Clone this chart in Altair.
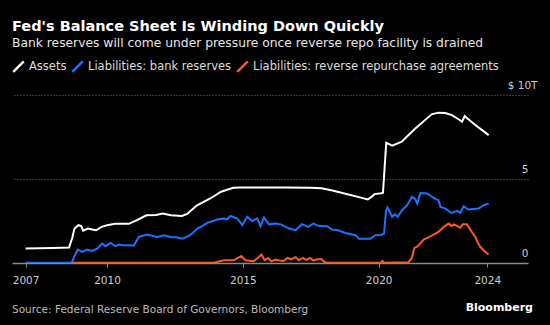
import altair as alt
import pandas as pd

TITLE = "Fed's Balance Sheet Is Winding Down Quickly"
SUBTITLE = "Bank reserves will come under pressure once reverse repo facility is drained"
SOURCE = "Source: Federal Reserve Board of Governors, Bloomberg"
BRAND = "Bloomberg"

series_names = ["Assets", "Liabilities: bank reserves", "Liabilities: reverse repurchase agreements"]
series_colors = ["#ffffff", "#1a73ff", "#ff5a23"]

assets_year = [2007.0, 2007.5, 2008.0, 2008.6, 2008.72, 2008.8, 2008.95, 2009.05, 2009.12, 2009.3,
               2009.45, 2009.6, 2009.8, 2010.0, 2010.3, 2010.8, 2011.1, 2011.45, 2011.8, 2012.05,
               2012.35, 2012.75, 2012.95, 2013.3, 2013.8, 2014.2, 2014.65, 2014.9, 2015.5, 2016.5,
               2017.5, 2017.9, 2018.3, 2018.7, 2019.2, 2019.6, 2019.75, 2019.85, 2020.1, 2020.16,
               2020.28, 2020.5, 2020.85, 2021.35, 2021.95, 2022.2, 2022.45, 2022.7, 2023.0, 2023.07,
               2023.17, 2023.26, 2023.56, 2023.81, 2024.05]
assets_val = [0.87, 0.88, 0.89, 0.92, 1.5, 2.05, 2.25, 2.2, 1.92, 2.05,
              2.0, 1.95, 2.15, 2.25, 2.33, 2.33, 2.55, 2.84, 2.86, 2.94,
              2.84, 2.8, 2.92, 3.42, 3.84, 4.24, 4.48, 4.5, 4.5, 4.49,
              4.48, 4.45, 4.32, 4.15, 3.95, 3.78, 3.95, 4.1, 4.15, 4.18,
              7.15, 6.98, 7.22, 8.0, 8.85, 8.95, 8.93, 8.8, 8.5, 8.41,
              8.75, 8.61, 8.21, 7.91, 7.61]

reserves_year = [2007.0, 2008.7, 2008.8, 2008.92, 2009.08, 2009.26, 2009.45, 2009.64, 2009.82, 2009.94,
                 2010.13, 2010.31, 2010.45, 2010.62, 2010.99, 2011.17, 2011.48, 2011.7, 2011.85, 2012.1,
                 2012.34, 2012.6, 2012.77, 2013.0, 2013.13, 2013.32, 2013.5, 2013.69, 2014.06, 2014.3,
                 2014.42, 2014.54, 2014.8, 2014.98, 2015.16, 2015.35, 2015.53, 2015.65, 2015.78, 2015.96,
                 2016.2, 2016.4, 2016.7, 2016.94, 2017.18, 2017.4, 2017.6, 2017.8, 2018.1, 2018.29,
                 2018.5, 2018.78, 2019.15, 2019.27, 2019.7, 2019.88, 2020.1, 2020.2, 2020.27, 2020.33,
                 2020.5, 2020.6, 2020.7, 2020.86, 2021.05, 2021.23, 2021.35, 2021.42, 2021.54, 2021.78,
                 2021.97, 2022.1, 2022.2, 2022.28, 2022.46, 2022.68, 2022.9, 2023.0, 2023.13, 2023.3,
                 2023.68, 2023.87, 2024.05]
reserves_val = [0.02, 0.02, 0.4, 0.8, 0.66, 0.8, 0.72, 0.86, 1.16, 1.0,
                1.2, 1.0, 1.1, 1.05, 1.04, 1.55, 1.69, 1.6, 1.55, 1.65,
                1.55, 1.52, 1.45, 1.6, 1.75, 2.05, 2.2, 2.39, 2.59, 2.65,
                2.6, 2.8, 2.65, 2.25, 2.75, 2.5, 2.65, 2.19, 2.7, 2.3,
                2.35, 2.3, 2.05, 1.95, 2.31, 2.15, 2.35, 2.2, 2.19, 1.99,
                1.95, 1.79, 1.65, 1.45, 1.45, 1.65, 1.67, 1.75, 3.1, 3.3,
                2.75, 2.9, 2.75, 3.14, 3.44, 3.94, 3.8, 3.54, 4.17, 4.14,
                3.94, 3.8, 3.75, 3.34, 3.24, 2.98, 3.1, 2.98, 3.38, 3.18,
                3.24, 3.44, 3.54]

rrp_year = [2008.72, 2013.93, 2014.3, 2014.67, 2014.94, 2015.1, 2015.4, 2015.69, 2015.8, 2015.93,
            2016.05, 2016.2, 2016.35, 2016.5, 2016.65, 2016.78, 2016.94, 2017.06, 2017.22, 2017.34,
            2017.47, 2017.6, 2017.74, 2017.9, 2018.0, 2018.1, 2020.08, 2020.14, 2020.2, 2021.1,
            2021.22, 2021.32, 2021.45, 2021.55, 2021.66, 2021.8, 2021.97, 2022.2, 2022.4, 2022.58,
            2022.68, 2022.77, 2022.9, 2023.0, 2023.1, 2023.25, 2023.35, 2023.45, 2023.56, 2023.65,
            2023.75, 2023.9, 2024.05]
rrp_val = [0.02, 0.02, 0.16, 0.16, 0.42, 0.16, 0.1, 0.5, 0.16, 0.3,
           0.1, 0.2, 0.15, 0.12, 0.3, 0.22, 0.35, 0.16, 0.3, 0.18,
           0.3, 0.14, 0.22, 0.22, 0.06, 0.02, 0.02, 0.12, 0.02, 0.05,
           0.3, 0.9, 1.0, 1.2, 1.4, 1.5, 1.65, 1.85, 2.15, 2.35,
           2.2, 2.3, 2.2, 2.1, 2.3, 2.3, 2.05, 1.8, 1.55, 1.2,
           0.95, 0.7, 0.5]

x_ticks = [2007, 2010, 2015, 2020, 2024]
y_ticks = [0, 5, 10]

rows = []
for name, ys, vs in [(series_names[0], assets_year, assets_val),
                     (series_names[1], reserves_year, reserves_val),
                     (series_names[2], rrp_year, rrp_val)]:
    for i, (y, v) in enumerate(zip(ys, vs)):
        rows.append({"series": name, "year": y, "value": v, "order": i})
df = pd.DataFrame(rows)

FONT = "DejaVu Sans"

lines = alt.Chart(df).mark_line(strokeWidth=2, clip=True).encode(
    x=alt.X("year:Q",
            scale=alt.Scale(domain=[2006.5, 2025.5], nice=False, zero=False),
            axis=alt.Axis(values=x_ticks, format="d", title=None, grid=False,
                          domainColor="#8a8a8a", domainWidth=1.5,
                          tickColor="#8a8a8a", tickSize=4, tickWidth=1,
                          labelColor="#cccccc", labelFontSize=10.5, labelFont=FONT,
                          labelPadding=8)),
    y=alt.Y("value:Q",
            scale=alt.Scale(domain=[0, 10], nice=False),
            axis=alt.Axis(orient="right", values=y_ticks, title=None,
                          domain=False, ticks=False, grid=True,
                          gridColor="#6a6a6a", gridDash=[1, 2], gridWidth=1,
                          gridOpacity={"condition": {"test": "datum.value == 0", "value": 0}, "value": 1},
                          labelExpr="datum.value == 10 ? '$ 10T' : datum.label",
                          labelAlign="right", labelBaseline="alphabetic",
                          labelOffset=-7,
                          labelPadding={"condition": {"test": "datum.value == 10", "value": 9}, "value": 0},
                          labelColor="#cccccc", labelFontSize=10.5, labelFont=FONT)),
    color=alt.Color("series:N",
                    scale=alt.Scale(domain=series_names, range=series_colors),
                    sort=series_names,
                    legend=alt.Legend(orient="none", legendX=0, legendY=-35,
                                      direction="horizontal", title=None,
                                      symbolType="M-1,1L1,-1", symbolSize=110,
                                      symbolStrokeWidth=2.5, labelLimit=0,
                                      labelColor="#dddddd", labelFontSize=11.5, labelFont=FONT,
                                      labelOffset=4, columnPadding=0, padding=0)),
    detail="series:N",
    order="order:Q",
)

title = alt.Chart(pd.DataFrame({"t": [TITLE]})).mark_text(
    align="left", baseline="alphabetic", fontSize=14.5, font=FONT, fontWeight="bold", color="#ffffff"
).encode(text="t:N", x=alt.value(0), y=alt.value(-64))

subtitle = alt.Chart(pd.DataFrame({"t": [SUBTITLE]})).mark_text(
    align="left", baseline="alphabetic", fontSize=12.3, font=FONT, color="#e6e6e6"
).encode(text="t:N", x=alt.value(0), y=alt.value(-48))

source = alt.Chart(pd.DataFrame({"t": [SOURCE]})).mark_text(
    align="left", baseline="alphabetic", fontSize=10.5, font=FONT, color="#bbbbbb"
).encode(text="t:N", x=alt.value(0), y=alt.value(218))

brand = alt.Chart(pd.DataFrame({"t": [BRAND]})).mark_text(
    align="right", baseline="alphabetic", fontSize=11, font=FONT, fontWeight="bold", color="#ffffff"
).encode(text="t:N", x=alt.value(521), y=alt.value(216))

chart = alt.layer(lines, title, subtitle, source, brand).properties(
    width=516, height=168,
    background="#000000",
    padding={"left": 12, "top": 95, "right": 22, "bottom": 62},
    autosize=alt.AutoSizeParams(type="none"),
).configure_view(stroke=None)

chart.save("out.html", embed_options={"renderer": "svg", "actions": False})
